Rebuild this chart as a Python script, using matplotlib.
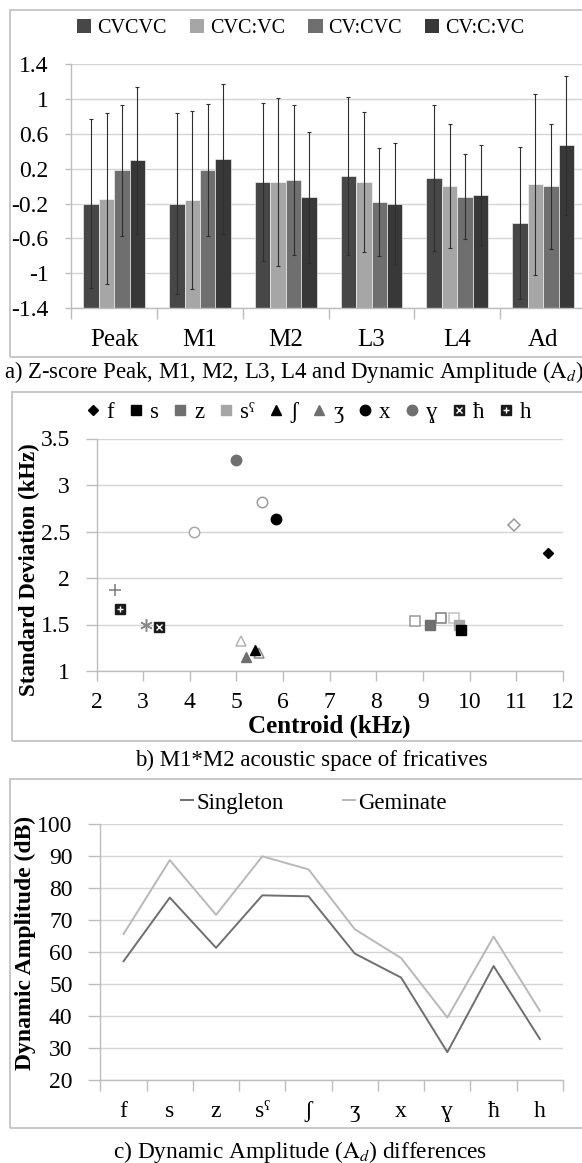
import numpy as np
import matplotlib
matplotlib.use('Agg')
import matplotlib.pyplot as plt
from matplotlib.patches import Rectangle, Patch

plt.rcParams['font.family'] = ['Liberation Serif', 'DejaVu Serif']
plt.rcParams['mathtext.fontset'] = 'stix'

# ---- dados do painel a (z-scores) ----
medidas = ['Peak', 'M1', 'M2', 'L3', 'L4', 'Ad']
silabas = ['CVCVC', 'CVC:VC', 'CV:CVC', 'CV:C:VC']
z_cvcvc = [-0.20, -0.20, 0.045, 0.12, 0.095, -0.42]
z_cvc_vc = [-0.145, -0.16, 0.05, 0.05, 0.0, 0.02]
z_cv_cvc = [0.18, 0.185, 0.07, -0.18, -0.12, 0.0]
z_cv_c_vc = [0.295, 0.31, -0.13, -0.20, -0.10, 0.47]
dp_cvcvc = [0.97, 1.04, 0.905, 0.905, 0.835, 0.87]
dp_cvc_vc = [0.98, 1.02, 0.96, 0.80, 0.71, 1.04]
dp_cv_cvc = [0.75, 0.755, 0.855, 0.62, 0.49, 0.715]
dp_cv_c_vc = [0.84, 0.86, 0.75, 0.69, 0.57, 0.795]
yticks_a = [1.4, 1.0, 0.6, 0.2, -0.2, -0.6, -1.0, -1.4]
ylabels_a = ['1.4', '1', '0.6', '0.2', '-0.2', '-0.6', '-1', '-1.4']

# ---- dados do painel b (centroide x desvio padrão) ----
fricativas = ['f', 's', 'z', 'sˤ', 'ʃ', 'ʒ', 'x', 'ɣ', 'ħ', 'h']
cent_simples = [11.67, 9.81, 9.15, 9.76, 5.40, 5.21, 5.84, 4.99, 3.35, 2.51]
dp_simples = [2.27, 1.44, 1.49, 1.49, 1.23, 1.15, 2.63, 3.27, 1.47, 1.67]
cent_gemin = [10.94, 9.67, 8.83, 9.38, 5.49, 5.09, 4.10, 5.54, 3.07, 2.39]
dp_gemin = [2.575, 1.57, 1.54, 1.57, 1.19, 1.32, 2.50, 2.82, 1.50, 1.87]

# ---- dados do painel c (amplitude dinâmica) ----
amp_singleton = [57.2, 77.1, 61.4, 77.8, 77.5, 59.6, 52.1, 28.8, 55.7, 32.9]
amp_geminate = [65.7, 88.8, 71.7, 90.0, 85.9, 67.2, 58.2, 39.6, 64.9, 41.7]

W, H = 582, 1163
fig = plt.figure(figsize=(W / 100, H / 100), dpi=100)
fig.patch.set_facecolor('white')

GRID = '#d4d4d4'
SPINE = '#bdbdbd'


def eixo_px(l, r, t, b):
    return fig.add_axes([l / W, 1 - b / H, (r - l) / W, (b - t) / H])


def moldura(x0, y0, x1, y1):
    fig.patches.append(Rectangle((x0 / W, 1 - y1 / H), (x1 - x0) / W, (y1 - y0) / H,
                                 transform=fig.transFigure, fill=False,
                                 ec='#c4c4c4', lw=1.3))


def estilo_eixo(ax, ticklen, pad):
    for s in ['top', 'right']:
        ax.spines[s].set_visible(False)
    for s in ['left', 'bottom']:
        ax.spines[s].set_color(SPINE)
        ax.spines[s].set_linewidth(1.0)
    ax.yaxis.grid(True, color=GRID, lw=1.0)
    ax.set_axisbelow(True)
    ax.tick_params(axis='y', length=ticklen, color=SPINE, width=1.0, pad=pad)


# ================= painel a =================
moldura(10, 10, 600, 356.5)
ax1 = eixo_px(71.4, 586, 64, 308.3)
estilo_eixo(ax1, 4.5, 12)
cores_a = ['#474747', '#a6a6a6', '#6f6f6f', '#383838']
valores = [z_cvcvc, z_cvc_vc, z_cv_cvc, z_cv_c_vc]
erros = [dp_cvcvc, dp_cvc_vc, dp_cv_cvc, dp_cv_c_vc]
xa = np.arange(len(medidas))
larg = 0.18
for i in range(4):
    v = np.array(valores[i])
    ax1.bar(xa + (i - 1.5) * larg, v + 1.4, bottom=-1.4, width=larg,
            color=cores_a[i], edgecolor='white', linewidth=0.4)
    ax1.errorbar(xa + (i - 1.5) * larg, v, yerr=erros[i], fmt='none',
                 ecolor='#2e2e2e', elinewidth=0.8, capsize=1.5, capthick=0.8)
ax1.set_ylim(-1.4, 1.4)
ax1.set_xlim(-0.5, len(medidas) - 0.5)
ax1.set_yticks(yticks_a)
ax1.set_yticklabels(ylabels_a, fontsize=17)
ax1.set_xticks(xa)
ax1.set_xticklabels(medidas, fontsize=18)
ax1.set_xticks(np.arange(len(medidas) + 1) - 0.5, minor=True)
ax1.tick_params(axis='x', which='major', length=0, pad=15)
ax1.tick_params(axis='x', which='minor', length=8, color=SPINE, width=1.0)
hand_a = [Patch(facecolor=c) for c in cores_a]
fig.legend(hand_a, silabas, loc='center', bbox_to_anchor=(301 / W, 1 - 28.5 / H),
           ncol=4, frameon=False, fontsize=14.5, handlelength=0.7, handleheight=0.7,
           handletextpad=0.3, columnspacing=1.15)
fig.text(4 / W, 1 - 372 / H,
         'a) Z-score Peak, M1, M2, L3, L4 and Dynamic Amplitude ($\\mathrm{A}_{d}$)',
         ha='left', va='center', fontsize=16.4)

# ================= painel b =================
moldura(11.5, 391.5, 600, 740.5)
ax2 = eixo_px(96.5, 563, 438.5, 671)
estilo_eixo(ax2, 8, 11)
ax2.set_xlim(2, 12)
ax2.set_ylim(1, 3.5)
ax2.set_xticks(np.arange(2, 13))
ax2.set_yticks([1, 1.5, 2, 2.5, 3, 3.5])
ax2.set_yticklabels(['1', '1.5', '2', '2.5', '3', '3.5'], fontsize=17)
ax2.tick_params(axis='x', length=7, color=SPINE, width=1.0, labelsize=17, pad=8)
ax2.set_xlabel('Centroid (kHz)', fontsize=18, fontweight='bold', labelpad=1)
ax2.set_ylabel('Standard Deviation (kHz)', fontsize=16.5, fontweight='bold')
ax2.yaxis.set_label_coords(-0.12, 0.434)

# geminadas (vazadas)
mk_g = ['D', 's', 's', 's', '^', '^', 'o', 'o', (6, 2, 0), '+']
cor_g = ['#9a9a9a', '#c2c2c2', '#9a9a9a', '#7c7c7c', '#8c8c8c', '#b4b4b4',
         '#a8a8a8', '#9a9a9a', '#8a8a8a', '#7a7a7a']
tam_g = [6, 7.5, 7.5, 7.5, 7.5, 7.5, 7.5, 7.5, 9, 9]
for i in range(len(fricativas)):
    vazado = i < 8
    ax2.plot(cent_gemin[i], dp_gemin[i], marker=mk_g[i], ms=tam_g[i], ls='none',
             mfc='white' if vazado else cor_g[i],
             mec=cor_g[i], mew=1.1, zorder=3)

# simples (cheias) e legenda
mk_s = ['D', 's', 's', 's', '^', '^', 'o', 'o', 's', 's']
cor_s = ['black', 'black', '#6f6f6f', '#a6a6a6', 'black', '#6f6f6f',
         'black', '#6f6f6f', '#1a1a1a', '#1a1a1a']
tam_s = [5.5, 7, 7, 7, 7.5, 7.5, 7.5, 7.5, 7, 7]
extra = [None] * 8 + ['x', '+']
ordem = [3, 2, 1, 0, 4, 5, 6, 7, 8, 9]
hand_b = [None] * len(fricativas)
for i in ordem:
    h = ax2.plot(cent_simples[i], dp_simples[i], marker=mk_s[i], ms=tam_s[i], ls='none',
                 color=cor_s[i], mec=cor_s[i], zorder=4)[0]
    if extra[i] is not None:
        h2 = ax2.plot(cent_simples[i], dp_simples[i], marker=extra[i], ms=5, ls='none',
                      color='white', mew=1.0, zorder=5)[0]
        hand_b[i] = (h, h2)
    else:
        hand_b[i] = h
fig.legend(hand_b, fricativas, loc='center', bbox_to_anchor=(308 / W, 1 - 412 / H),
           ncol=10, frameon=False, fontsize=16.5, handlelength=0.7, handletextpad=0.25,
           columnspacing=0.6, borderpad=0.1)
fig.text(311 / W, 1 - 760 / H, 'b) M1*M2 acoustic space of fricatives',
         ha='center', va='center', fontsize=16.5)

# ================= painel c =================
moldura(10, 779, 600, 1127.5)
ax3 = eixo_px(100.4, 563, 824.3, 1080.3)
estilo_eixo(ax3, 9, 11)
xc = np.arange(len(fricativas))
l1, = ax3.plot(xc, amp_singleton, color='#6e6e6e', lw=1.4)
l2, = ax3.plot(xc, amp_geminate, color='#b8b8b8', lw=1.4)
ax3.set_xlim(-0.5, len(fricativas) - 0.5)
ax3.set_ylim(20, 100)
ax3.set_yticks(np.arange(20, 101, 10))
ax3.tick_params(axis='y', labelsize=17)
ax3.set_xticks(xc)
ax3.set_xticklabels(fricativas, fontsize=17)
ax3.set_xticks(np.arange(len(fricativas) + 1) - 0.5, minor=True)
ax3.tick_params(axis='x', which='major', length=0, pad=15)
ax3.tick_params(axis='x', which='minor', length=8, color=SPINE, width=1.0)
ax3.set_ylabel('Dynamic Amplitude (dB)', fontsize=17, fontweight='bold')
ax3.yaxis.set_label_coords(-0.139, 0.536)
fig.legend([l1, l2], ['Singleton', 'Geminate'], loc='center',
           bbox_to_anchor=(314 / W, 1 - 803 / H), ncol=2, frameon=False, fontsize=16.5,
           handlelength=0.5, handletextpad=0.15, columnspacing=2.6)
fig.text(300 / W, 1 - 1152 / H, 'c) Dynamic Amplitude ($\\mathrm{A}_{d}$) differences',
         ha='center', va='center', fontsize=16.8)

fig.savefig('out.png', dpi=100)
